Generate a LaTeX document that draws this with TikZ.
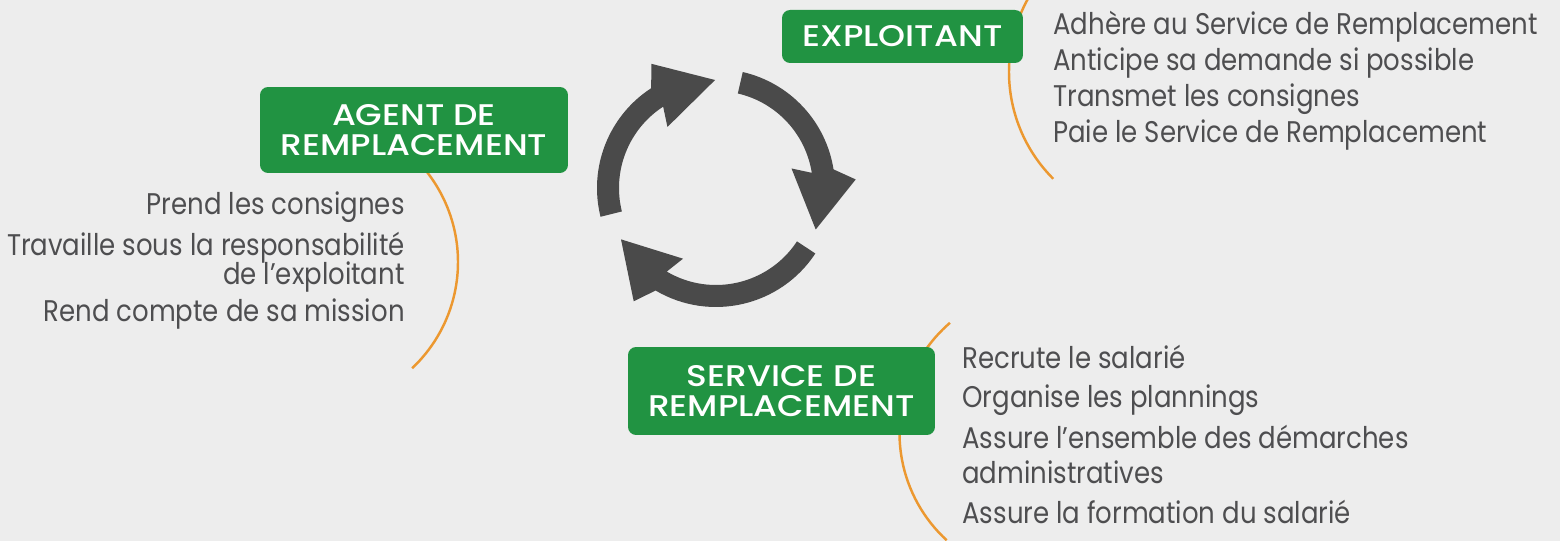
\documentclass[tikz,border=0pt]{standalone}
\usepackage{fontspec}
\setmainfont{Poppins}[FakeStretch=0.87]
\newfontfamily\rolefont{Poppins Medium}[FakeStretch=1.15]

\definecolor{bggray}{RGB}{237,237,237}
\definecolor{rolegreen}{RGB}{33,147,66}
\definecolor{taskgray}{RGB}{78,78,80}
\definecolor{arcorange}{RGB}{236,152,48}
\definecolor{cyclegray}{RGB}{74,74,74}

% one bent arrow of the cycle: start angle, angle of the head base, angle of the tip
\newcommand{\cyclearrow}[3]{%
  \fill[cyclegray] (#1:119) arc[start angle=#1, end angle=#2, radius=119]
    -- (#2-5.5:140) -- (#3:108) -- (#2+5.5:78) -- (#2:97)
    arc[start angle=#2, end angle=#1, radius=97] -- cycle;}

\begin{document}
\begin{tikzpicture}[x=0.02cm, y=0.02cm,
  rolebox/.style={fill=rolegreen, rounded corners=0.16cm, text=white, align=center, inner sep=0,
    font=\rolefont\fontsize{17}{17.5}\selectfont},
  tasktext/.style={text=taskgray, inner sep=0, font=\fontsize{17}{20}\selectfont},
  linkarc/.style={draw=arcorange, line width=1.4pt}]

	\fill[bggray] (0,0) rectangle (1560,541);
	\useasboundingbox (0,0) rectangle (1560,541);

	% orange arcs, under the boxes
	\draw[linkarc] (1160,469) ++(151:151) arc[start angle=151, end angle=225, radius=151];
	\draw[linkarc] (312,279) ++(45:146) arc[start angle=45, end angle=-46.7, radius=146];
	\draw[linkarc] (1045,108) ++(130.8:145.5) arc[start angle=130.8, end angle=227.5, radius=145.5];

	% the three roles
	\node[rolebox, minimum width=4.82cm, minimum height=1.06cm] (exploitant) at (902.5,504.5) {EXPLOITANT};
	\node[rolebox, minimum width=6.16cm, minimum height=1.72cm] (agent) at (414,411) {AGENT DE\\REMPLACEMENT};
	\node[rolebox, minimum width=6.14cm, minimum height=1.76cm] (service) at (781.5,150) {SERVICE DE\\REMPLACEMENT};

	% cycle in the middle
	\begin{scope}[shift={(716,353)}]
		\cyclearrow{194}{123}{90.5}
		\cyclearrow{77}{9}{-22.6}
		\cyclearrow{-33.4}{-120.5}{-151.6}
	\end{scope}

	% tasks
	\foreach \txt [count=\i] in {Adhère au Service de Remplacement, Anticipe sa demande si possible,
		Transmet les consignes, Paie le Service de Remplacement}
		\node[tasktext, anchor=base west] (exploitant-\i) at (1053,542-36*\i) {\txt};

	\foreach \yy/\txt [count=\i] in {326/Prend les consignes, 285/Travaille sous la responsabilité,
		256/de l’exploitant, 219/Rend compte de sa mission}
		\node[tasktext, anchor=base east] (agent-\i) at (405,\yy) {\txt};

	\foreach \yy/\txt [count=\i] in {172/Recrute le salarié, 133/Organise les plannings,
		92/Assure l’ensemble des démarches, 57/administratives, 17/Assure la formation du salarié}
		\node[tasktext, anchor=base west] (service-\i) at (962,\yy) {\txt};
\end{tikzpicture}
\end{document}
